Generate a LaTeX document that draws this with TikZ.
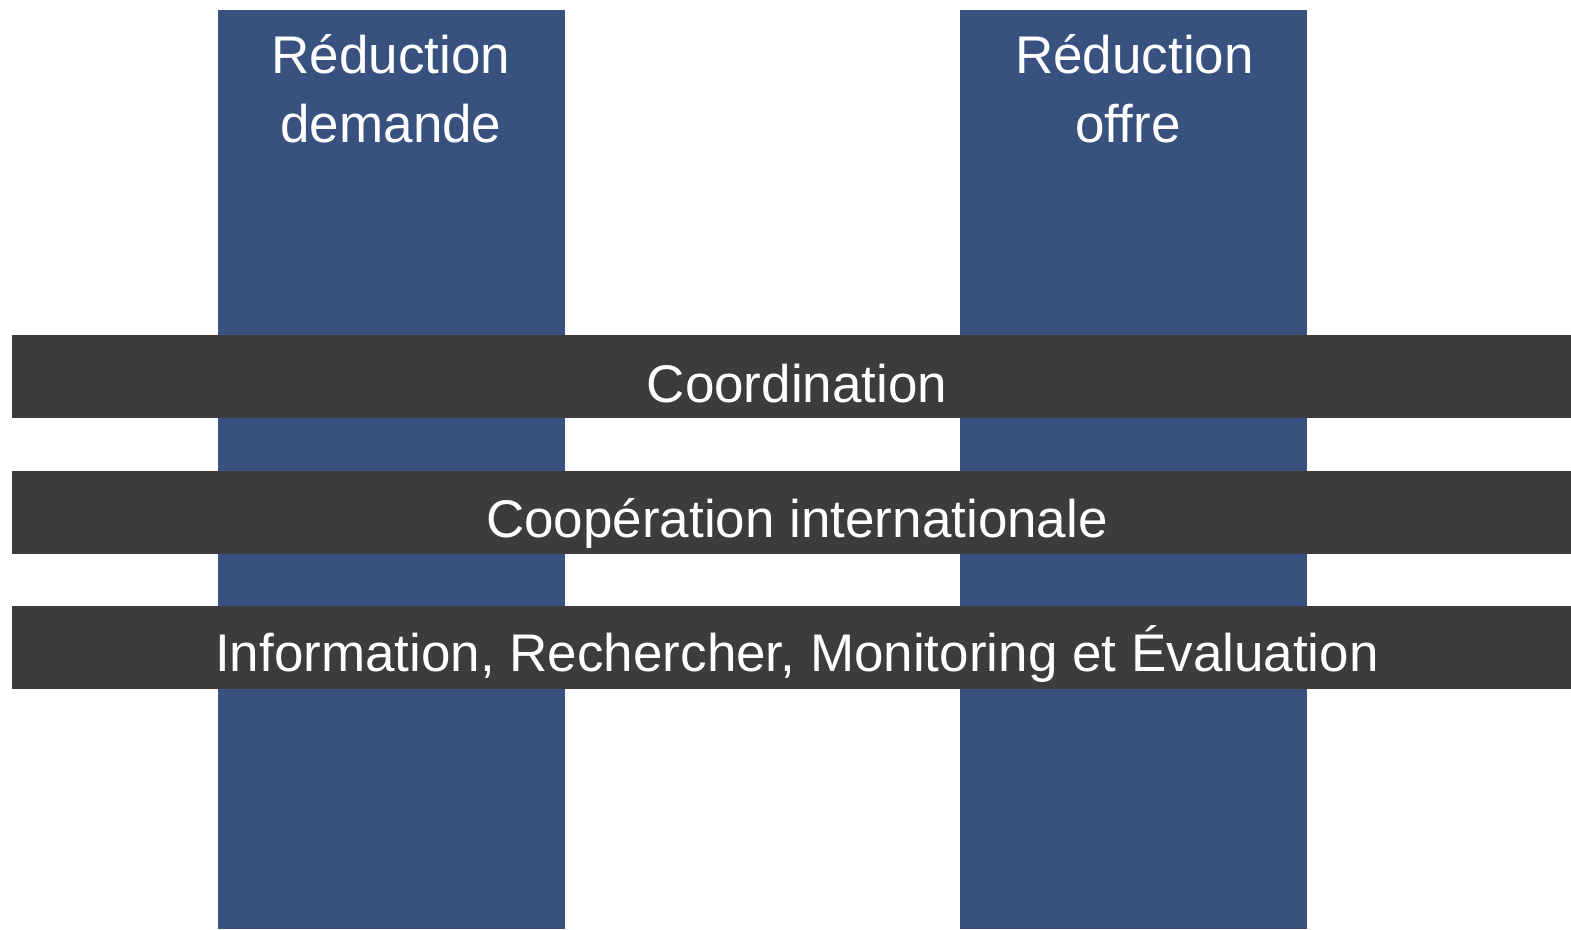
\documentclass[tikz,border=0pt]{standalone}
\usepackage{fontspec}
\setmainfont[Ligatures=NoCommon]{Liberation Sans}
\definecolor{colblue}{HTML}{38517F}
\definecolor{bardark}{HTML}{3C3C3B}
\begin{document}
\begin{tikzpicture}[x=1pt,y=-1pt,
  pillar/.style={fill=colblue,draw=none},
  band/.style={fill=bardark,draw=none},
  lbl/.style={text=white,font=\fontsize{53}{69.5}\selectfont,align=center,inner sep=0pt}]
\useasboundingbox (0,0) rectangle (1571,929);
\fill[pillar] (218,10) rectangle (565,929);
\fill[pillar] (960,10) rectangle (1307,929);
\node[lbl,anchor=base] (demande) at (391,142.5) {Réduction\\demande};
\node[lbl,anchor=base] (offre) at (1134.5,142.5) {Réduction\\offre\hspace*{13pt}};
\fill[band] (12,335) rectangle (1571,418);
\fill[band] (12,471) rectangle (1571,554);
\fill[band] (12,606) rectangle (1571,689);
\node[lbl,anchor=base] (coord) at (797,402) {Coordination};
\node[lbl,anchor=base] (coop) at (797,537) {Coopération internationale};
\node[lbl,anchor=base] (info) at (797,671) {Information, Rechercher, Monitoring et Évaluation};
\end{tikzpicture}
\end{document}
